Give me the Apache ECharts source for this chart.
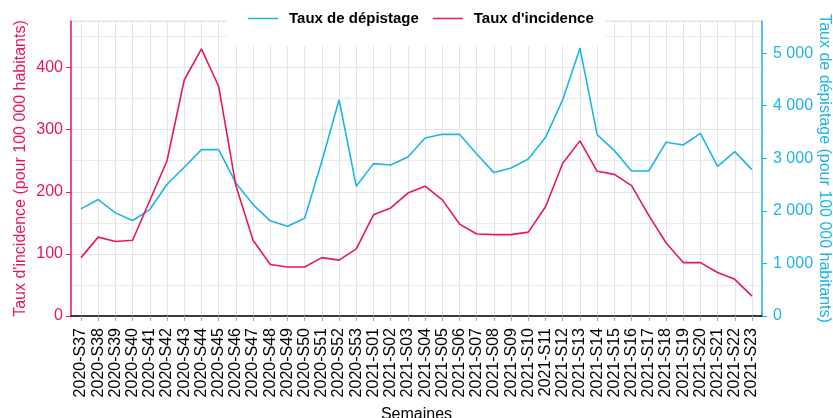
<!DOCTYPE html>
<html>
<head>
<meta charset="utf-8">
<script src="https://cdn.jsdelivr.net/npm/echarts@6/dist/echarts.min.js"></script>
<style>html,body{margin:0;padding:0;background:#fff}#c{width:833px;height:418px}</style>
</head>
<body>
<div id="c"></div>
<script>
const categories = ['2020-S37','2020-S38','2020-S39','2020-S40','2020-S41','2020-S42','2020-S43','2020-S44','2020-S45','2020-S46','2020-S47','2020-S48','2020-S49','2020-S50','2020-S51','2020-S52','2020-S53','2021-S01','2021-S02','2021-S03','2021-S04','2021-S05','2021-S06','2021-S07','2021-S08','2021-S09','2021-S10','2021-S11','2021-S12','2021-S13','2021-S14','2021-S15','2021-S16','2021-S17','2021-S18','2021-S19','2021-S20','2021-S21','2021-S22','2021-S23'];
const depistage = [2038,2215,1962,1816,2025,2506,2829,3165,3165,2532,2120,1810,1709,1861,2943,4114,2468,2899,2873,3025,3386,3456,3456,3082,2728,2816,2987,3399,4114,5095,3449,3146,2759,2759,3304,3253,3475,2848,3127,2785];
const incidence = [94,127,120,122,186,250,380,430,370,210,122,83,79,79,94,90,108,163,174,198,209,187,148,132,131,131,135,176,246,282,233,228,210,162,118,86,86,70,59,32];
const leftTicks = {min:0, max:475, interval:100};
const rightTicks = {min:0, max:5612, interval:1000};

const RED = '#E8175D', BLUE = '#1DB5E6';
const FONT = "'Liberation Sans', Arial, sans-serif";
const chart = echarts.init(document.getElementById('c'), null, {renderer:'canvas'});
const fmtSpace = v => String(v).replace(/\B(?=(\d{3})+(?!\d))/g, ' ');
const GRID_LINE = '#e5e5e5';

chart.setOption({
  animation:false,
  textStyle:{fontFamily:FONT},
  grid:[
    {left:71, right:71, top:21, bottom:102, show:true, borderColor:GRID_LINE, borderWidth:1, backgroundColor:'#fff', outerBoundsMode:'none', containLabel:false},
    {left:81, right:81, top:21, bottom:102, outerBoundsMode:'none', containLabel:false}
  ],
  legend:{
    left:227, top:0, padding:[11,12,20,21], backgroundColor:'#fff',
    itemWidth:30, itemHeight:1.5, itemGap:14, icon:'rect',
    textStyle:{fontFamily:FONT, fontSize:15, fontWeight:'bold', color:'#000', padding:[0,0,0,6]},
    data:['Taux de dépistage','Taux d\'incidence']
  },
  xAxis:[
    {gridIndex:0, type:'value', min:0, max:1,
     name:'Semaines', nameLocation:'middle', nameGap:91, nameMoveOverlap:false,
     nameTextStyle:{fontFamily:FONT, fontSize:16, color:'#000'},
     axisLine:{show:true, onZero:false, lineStyle:{color:'#000', width:1.5}},
     axisTick:{show:false}, axisLabel:{show:false}, splitLine:{show:false}},
    {gridIndex:1, type:'category', boundaryGap:false, data:categories,
     axisLine:{show:false, onZero:false},
     axisTick:{show:true, length:5, lineStyle:{color:'#aaa'}},
     axisLabel:{rotate:90, interval:0, fontFamily:FONT, fontSize:16, color:'#000', margin:12},
     splitLine:{show:true, interval:0, lineStyle:{color:GRID_LINE, width:1}}}
  ],
  yAxis:[
    {gridIndex:0, type:'value', position:'left', min:leftTicks.min, max:leftTicks.max, interval:leftTicks.interval,
     name:'Taux d\'incidence (pour 100 000 habitants)', nameLocation:'middle', nameRotate:90, nameGap:42, nameMoveOverlap:false,
     nameTextStyle:{fontFamily:FONT, fontSize:16, color:RED},
     axisLine:{show:true, onZero:false, lineStyle:{color:RED, width:1.5}},
     axisTick:{show:true, length:5, lineStyle:{color:RED}},
     axisLabel:{fontFamily:FONT, fontSize:16, color:RED, margin:8, showMaxLabel:false,
       formatter:v=> v % 100 === 0 ? String(v) : ''},
     splitLine:{show:true, lineStyle:{color:GRID_LINE, width:1}},
     minorTick:{show:false, splitNumber:2},
     minorSplitLine:{show:true, lineStyle:{color:'#ececec', width:1}}
    },
    {gridIndex:0, type:'value', position:'right', min:rightTicks.min, max:rightTicks.max, interval:rightTicks.interval,
     name:'Taux de dépistage (pour 100 000 habitants)', nameLocation:'middle', nameRotate:-90, nameGap:54, nameMoveOverlap:false,
     nameTextStyle:{fontFamily:FONT, fontSize:16, color:BLUE},
     axisLine:{show:true, onZero:false, lineStyle:{color:BLUE, width:1.5}},
     axisTick:{show:true, length:5, lineStyle:{color:BLUE}},
     axisLabel:{fontFamily:FONT, fontSize:16, color:BLUE, margin:11, showMaxLabel:false,
       formatter:v=> v % 1000 === 0 ? fmtSpace(v) : ''},
     splitLine:{show:false}
    },
    {gridIndex:1, type:'value', min:leftTicks.min, max:leftTicks.max, interval:leftTicks.interval, show:false},
    {gridIndex:1, type:'value', min:rightTicks.min, max:rightTicks.max, interval:rightTicks.interval, show:false}
  ],
  series:[
    {name:'Taux de dépistage', type:'line', xAxisIndex:1, yAxisIndex:3, symbol:'none',
     lineStyle:{color:BLUE, width:1.6}, itemStyle:{color:BLUE},
     data:depistage},
    {name:'Taux d\'incidence', type:'line', xAxisIndex:1, yAxisIndex:2, symbol:'none',
     lineStyle:{color:RED, width:1.6}, itemStyle:{color:RED},
     data:incidence}
  ]
});
</script>
</body>
</html>
